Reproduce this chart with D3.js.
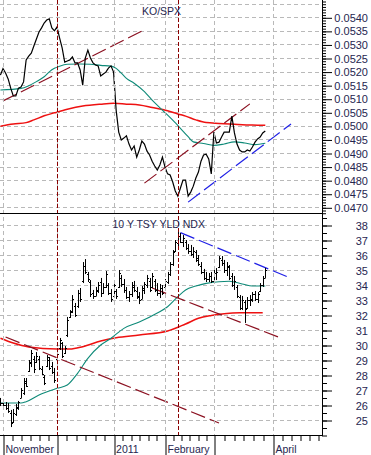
<!DOCTYPE html>
<html>
<head>
<meta charset="utf-8">
<script src="https://cdn.jsdelivr.net/npm/d3@7"></script>
<style>
  body { margin: 0; background: #fff; }
  svg { display: block; font-family: "Liberation Sans", Arial, sans-serif; }
</style>
</head>
<body>
<svg width="371" height="455"></svg>
<script>
// months on the time axis (index = trading day, 0 = 1 Nov 2010)
const monthLabels = ["November", "", "2011", "February", "", "April", ""];
const monthStart = [0, 21, 43, 63, 82, 105, 126];
const eventDays = [21, 68];

// KO/SPX ratio, daily closes from index -1
const koStart = -1;
const koSpx = [
  0.05187, 0.05211, 0.05195, 0.05173, 0.05139, 0.05110, 0.05110, 0.05139, 0.05143, 0.05162,
  0.05243, 0.05257, 0.05268, 0.05294, 0.05320, 0.05346, 0.05361, 0.05379, 0.05390, 0.05394,
  0.05361, 0.05350, 0.05364, 0.05324, 0.05287, 0.05235, 0.05239, 0.05243, 0.05254, 0.05232,
  0.05232, 0.05206, 0.05150, 0.05250, 0.05279, 0.05250, 0.05232, 0.05224, 0.05221, 0.05184,
  0.05191, 0.05198, 0.05213, 0.05221, 0.05198, 0.05058, 0.04977, 0.04948, 0.04955, 0.04963,
  0.04933, 0.04911, 0.04926, 0.04885, 0.04911, 0.04944, 0.04933, 0.04907, 0.04893, 0.04870,
  0.04852, 0.04837, 0.04856, 0.04885, 0.04848, 0.04823, 0.04819, 0.04793, 0.04760, 0.04741,
  0.04771, 0.04800, 0.04800, 0.04741, 0.04756, 0.04778, 0.04808, 0.04830, 0.04870, 0.04893,
  0.04896, 0.04878, 0.04823, 0.04977, 0.04937, 0.04940, 0.04959, 0.04977, 0.04977, 0.04977,
  0.05036, 0.04974, 0.04933, 0.04911, 0.04904, 0.04904, 0.04911, 0.04907, 0.04922, 0.04940,
  0.04952, 0.04959, 0.04974, 0.04981
];
const koMaFastIdx = [-1, 7, 10, 13, 16, 18, 20, 22, 25, 30, 34, 38, 42, 44, 46, 48, 51, 55, 58, 62, 66, 69, 72, 74, 78, 82, 86, 90, 94, 98, 102];
const koMaFast = [0.05132, 0.05138, 0.05148, 0.05163, 0.05181, 0.05199, 0.05212, 0.05220, 0.05227, 0.05228,
  0.05227, 0.05223, 0.05220, 0.05212, 0.05194, 0.05175, 0.05157, 0.05126, 0.05095, 0.05058,
  0.05021, 0.04991, 0.04960, 0.04941, 0.04935, 0.04928, 0.04933, 0.04941, 0.04937, 0.04931, 0.04936];
const koMaSlowIdx = [-1, 4, 9, 12, 16, 20, 25, 31, 38, 43, 48, 53, 58, 64, 68, 71, 75, 79, 84, 90, 97, 102];
const koMaSlow = [0.04999, 0.05007, 0.05012, 0.05022, 0.05037, 0.05048, 0.05061, 0.05073, 0.05080, 0.05083,
  0.05080, 0.05077, 0.05068, 0.05056, 0.05044, 0.05036, 0.05022, 0.05012, 0.05009, 0.05006, 0.05003, 0.05002];
// trend lines [day, value] pairs
const koTrendUp1 = [[0, 0.05092], [54, 0.05349]];
const koTrendUp2 = [[55, 0.04789], [96, 0.05081]];
const koTrendSupport = [[72, 0.04719], [112, 0.05007]];

// 10 year treasury yield index, OHLC from index -1
const tsyStart = -1;
const tsyHigh = [
  26.47, 26.27, 26.2, 26.13, 25.67, 25.73, 26.07, 26.27, 27.13, 27.8,
  27.8, 29.0, 29.67, 29.27, 29.53, 29.27, 28.6, 28.0, 29.33, 29.2,
  28.87, 28.47, 29.53, 30.47, 30.2, 29.93, 31.87, 32.33, 33.33, 32.8,
  33.67, 33.8, 35.53, 35.73, 34.87, 34.33, 33.67, 33.87, 34.2, 34.47,
  34.13, 34.93, 34.13, 33.73, 34.2, 33.73, 35.0, 34.67, 34.4, 33.87,
  33.6, 34.2, 34.27, 33.87, 33.53, 33.93, 34.2, 34.67, 34.47, 34.8,
  34.4, 34.13, 34.07, 34.0, 34.4, 34.87, 35.53, 36.33, 37.0, 37.53,
  37.47, 37.33, 37.0, 36.73, 36.67, 36.53, 36.33, 36.0, 35.53, 35.07,
  34.87, 34.8, 34.87, 35.0, 35.13, 35.93, 35.93, 35.67, 35.53, 35.33,
  34.8, 34.6, 34.0, 33.33, 33.27, 33.0, 33.2, 33.33, 33.53, 33.6,
  33.53, 34.13, 34.6, 35.13
];
const tsyLow = [
  25.93, 25.73, 25.67, 25.47, 24.53, 24.8, 25.27, 25.67, 26.47, 26.67,
  27.2, 28.2, 28.53, 28.13, 28.8, 28.33, 28.0, 27.33, 28.53, 28.33,
  28.07, 27.47, 29.0, 29.67, 29.13, 29.4, 30.53, 31.8, 32.13, 31.87,
  32.47, 32.87, 34.13, 34.73, 34.2, 33.2, 33.07, 33.27, 33.47, 33.2,
  33.4, 33.8, 33.33, 32.87, 33.13, 33.07, 33.8, 33.87, 33.47, 33.07,
  32.87, 33.2, 33.53, 33.07, 32.73, 33.07, 33.4, 33.8, 33.53, 33.8,
  33.53, 33.27, 33.13, 33.33, 33.8, 34.07, 34.6, 35.27, 36.2, 36.6,
  36.8, 36.53, 36.33, 36.07, 35.93, 35.8, 35.53, 35.27, 34.73, 34.33,
  34.2, 34.2, 34.13, 34.27, 34.33, 35.13, 35.27, 34.8, 34.6, 34.33,
  33.87, 33.67, 33.13, 32.33, 32.33, 31.47, 32.4, 32.6, 32.87, 32.93,
  32.8, 33.53, 33.87, 34.47
];
const tsyOpen = [
  26.3, 26.1, 26.0, 25.8, 25.5, 24.9, 25.4, 25.8, 26.5, 26.8,
  27.5, 28.3, 28.8, 29.1, 28.9, 29.1, 28.4, 27.9, 28.6, 29.0,
  28.6, 28.2, 29.1, 29.8, 30.1, 29.5, 30.7, 31.9, 32.3, 32.6,
  32.6, 33.5, 34.3, 35.3, 34.7, 34.2, 33.5, 33.3, 33.6, 34.2,
  33.5, 33.9, 34.0, 33.5, 33.3, 33.6, 33.9, 34.5, 34.1, 33.7,
  33.2, 33.4, 33.9, 33.6, 33.2, 33.1, 33.7, 34.0, 34.3, 33.9,
  34.3, 33.7, 33.5, 33.8, 33.9, 34.2, 34.7, 35.4, 36.3, 36.8,
  37.3, 36.9, 36.9, 36.5, 36.3, 36.1, 36.2, 35.8, 35.3, 34.9,
  34.5, 34.4, 34.6, 34.3, 34.8, 35.2, 35.7, 35.5, 35.0, 35.2,
  34.6, 34.0, 33.9, 33.2, 32.5, 32.9, 32.5, 33.0, 33.0, 33.4,
  33.1, 33.6, 34.0, 34.5
];
const tsyClose = [
  26.1, 26.0, 25.8, 25.6, 24.8, 25.5, 25.9, 26.2, 27.0, 27.6,
  27.3, 28.9, 29.5, 28.4, 29.3, 28.5, 28.1, 27.5, 29.2, 28.5,
  28.2, 27.7, 29.4, 30.3, 29.3, 29.8, 31.7, 32.2, 33.1, 32.0,
  33.5, 33.1, 35.3, 34.9, 34.4, 33.4, 33.3, 33.7, 34.0, 33.5,
  33.9, 34.7, 33.5, 33.1, 34.0, 33.3, 34.8, 34.1, 33.7, 33.2,
  33.4, 34.0, 33.7, 33.3, 33.0, 33.8, 34.1, 34.5, 33.7, 34.6,
  33.7, 33.5, 33.8, 33.5, 34.3, 34.7, 35.4, 36.2, 36.9, 37.3,
  36.9, 37.1, 36.5, 36.3, 36.1, 36.3, 35.7, 35.4, 34.9, 34.5,
  34.4, 34.6, 34.3, 34.8, 34.9, 35.8, 35.5, 35.0, 35.3, 34.5,
  34.0, 34.3, 33.3, 32.5, 33.0, 32.4, 33.0, 33.1, 33.4, 33.1,
  33.4, 34.0, 34.5, 35.0
];
const tsyMaFastIdx = [-1, 7, 9, 14, 21, 25, 29, 33, 38, 42, 47, 53, 60, 64, 68, 71, 75, 79, 84, 88, 93, 97, 102];
const tsyMaFast = [26.13, 26.13, 26.22, 26.67, 27.11, 27.33, 28.11, 29.11, 30.0, 30.45, 31.11, 31.53,
  32.13, 32.55, 33.22, 33.67, 33.93, 34.11, 34.22, 34.25, 34.07, 33.93, 33.93];
const tsyMaSlowIdx = [-1, 4, 10, 21, 26, 31, 38, 44, 53, 64, 71, 76, 81, 86, 92, 101];
const tsyMaSlow = [30.45, 30.13, 29.87, 29.73, 29.73, 29.89, 30.27, 30.49, 30.67, 30.93, 31.4, 31.78,
  31.97, 32.09, 32.15, 32.15];
const tsyTrendDown1 = [[1, 30.53], [84, 24.8]];
const tsyTrendDown2 = [[58, 33.8], [108, 30.47]];
const tsyTrendResist = [[69, 37.49], [112, 34.45]];

const koTicks = d3.range(15).map((k) => 0.047 + k * 0.0005);
const tsyTicks = d3.range(25, 39);

const svg = d3.select("svg");
const plotW = 322;
const topH = 213;
const botY0 = 213,
  botY1 = 435;
const textColor = "#262650";
const gridColor = "#b9b9b9";
const maroon = "#8b1020";

const x = d3.scaleLinear().domain([0, 105]).range([3, 273]);
const yKo = d3.scaleLinear().domain([0.047, 0.054]).range([207.3, 17.3]);
const yTsy = d3.scaleLinear().domain([25, 38]).range([420, 225]);
const px = (v) => Math.round(v) + 0.5;

const defs = svg.append("defs");
defs.append("clipPath").attr("id", "clipTop")
  .append("rect").attr("width", plotW).attr("height", topH);
defs.append("clipPath").attr("id", "clipBot")
  .append("rect").attr("y", botY0).attr("width", plotW).attr("height", botY1 - botY0);

const gTop = svg.append("g").attr("clip-path", "url(#clipTop)");
const gBot = svg.append("g").attr("clip-path", "url(#clipBot)");

// horizontal grid
gTop.selectAll(".hg").data(koTicks.concat([0.0545])).join("line")
  .attr("x1", 0).attr("x2", plotW)
  .attr("y1", (d) => px(yKo(d))).attr("y2", (d) => px(yKo(d)))
  .attr("stroke", gridColor).attr("stroke-dasharray", "4,3");
gBot.selectAll(".hg").data(tsyTicks).join("line")
  .attr("x1", 0).attr("x2", plotW)
  .attr("y1", (d) => px(yTsy(d))).attr("y2", (d) => px(yTsy(d)))
  .attr("stroke", gridColor).attr("stroke-dasharray", "4,3");

// vertical grid at month starts
svg.append("g").selectAll("line").data(monthStart.filter((d) => x(d) < plotW)).join("line")
  .attr("x1", (d) => px(x(d))).attr("x2", (d) => px(x(d)))
  .attr("y1", 0).attr("y2", botY1)
  .attr("stroke", gridColor).attr("stroke-dasharray", "4,3");

// event markers
svg.append("g").selectAll("line").data(eventDays).join("line")
  .attr("x1", (d) => px(x(d))).attr("x2", (d) => px(x(d)))
  .attr("y1", 0).attr("y2", botY1)
  .attr("stroke", "#8b0000").attr("stroke-dasharray", "4,2");

// ---- top panel
const maLine = (idx, vals, y) =>
  d3.line().x((d) => x(d)).y((d, k) => y(vals[k])).curve(d3.curveMonotoneX)(idx);

gTop.append("path").attr("d", maLine(koMaSlowIdx, koMaSlow, yKo))
  .attr("fill", "none").attr("stroke", "#ee1111").attr("stroke-width", 1.5);
gTop.append("path").attr("d", maLine(koMaFastIdx, koMaFast, yKo))
  .attr("fill", "none").attr("stroke", "#0e8a78").attr("stroke-width", 1.1);

const trend = (g, pts, y, color) =>
  g.append("line")
    .attr("x1", x(pts[0][0])).attr("y1", y(pts[0][1]))
    .attr("x2", x(pts[1][0])).attr("y2", y(pts[1][1]))
    .attr("stroke", color).attr("stroke-width", 1.2).attr("stroke-dasharray", "15,5");

trend(gTop, koTrendUp1, yKo, maroon);
trend(gTop, koTrendUp2, yKo, maroon);
trend(gTop, koTrendSupport, yKo, "#1f1fe6");

gTop.append("path")
  .attr("d", d3.line().x((d, k) => x(koStart + k)).y((d) => yKo(d))(koSpx))
  .attr("fill", "none").attr("stroke", "#000").attr("stroke-width", 1.2);

svg.append("text").text("KO/SPX")
  .attr("x", 142).attr("y", 15).attr("font-size", 10.5).attr("fill", textColor);

// ---- bottom panel
gBot.append("path").attr("d", maLine(tsyMaSlowIdx, tsyMaSlow, yTsy))
  .attr("fill", "none").attr("stroke", "#ee1111").attr("stroke-width", 1.5);
gBot.append("path").attr("d", maLine(tsyMaFastIdx, tsyMaFast, yTsy))
  .attr("fill", "none").attr("stroke", "#0e8a78").attr("stroke-width", 1.1);

trend(gBot, tsyTrendDown1, yTsy, maroon);
trend(gBot, tsyTrendDown2, yTsy, maroon);
trend(gBot, tsyTrendResist, yTsy, "#1f1fe6");

const bars = tsyHigh.map((h, k) => ({
  i: tsyStart + k, h, l: tsyLow[k], o: tsyOpen[k], c: tsyClose[k],
}));
gBot.append("g").selectAll("path").data(bars).join("path")
  .attr("d", (d) => {
    const cx = px(x(d.i));
    return `M${cx},${yTsy(d.h)}V${yTsy(d.l)}` +
      `M${cx - 1.5},${px(yTsy(d.o))}H${cx}` +
      `M${cx},${px(yTsy(d.c))}H${cx + 1.5}`;
  })
  .attr("fill", "none").attr("stroke", "#000").attr("stroke-width", 1);

svg.append("text").text("10 Y TSY YLD NDX")
  .attr("x", 112.5).attr("y", 228).attr("font-size", 10.5).attr("fill", textColor);

// ---- frame
svg.append("line").attr("x1", 0).attr("x2", plotW).attr("y1", topH + 0.5).attr("y2", topH + 0.5)
  .attr("stroke", "#000");
svg.append("line").attr("x1", 0).attr("x2", plotW).attr("y1", botY1 + 0.5).attr("y2", botY1 + 0.5)
  .attr("stroke", "#000");
svg.append("line").attr("x1", plotW + 0.5).attr("x2", plotW + 0.5).attr("y1", 0).attr("y2", botY1 + 1)
  .attr("stroke", "#000");

// ---- right axes
const styleAxis = (g) => {
  g.select(".domain").remove();
  g.selectAll("line").attr("stroke", "#000");
  g.selectAll("text").attr("x", 46).attr("text-anchor", "end")
    .attr("font-size", 11).attr("font-family", "Liberation Sans, Arial, sans-serif")
    .attr("fill", textColor);
};
const koMinor = d3.range(81).map((k) => 0.0466 + k * 0.0001);
svg.append("g").attr("transform", `translate(${plotW},0.5)`)
  .call(d3.axisRight(yKo).tickValues(koMinor.filter((d) => yKo(d) > 1 && yKo(d) < topH))
    .tickSize(4).tickFormat(""))
  .call(styleAxis);
svg.append("g").attr("transform", `translate(${plotW},0.5)`)
  .call(d3.axisRight(yKo).tickValues(koTicks).tickSize(10).tickFormat(d3.format(".4f")))
  .call(styleAxis);

const tsyMinor = d3.range(30).map((k) => 24 + k * 0.5);
svg.append("g").attr("transform", `translate(${plotW},0.5)`)
  .call(d3.axisRight(yTsy).tickValues(tsyMinor.filter((d) => yTsy(d) > topH + 2))
    .tickSize(5).tickFormat(""))
  .call(styleAxis);
svg.append("g").attr("transform", `translate(${plotW},0.5)`)
  .call(d3.axisRight(yTsy).tickValues(tsyTicks).tickSize(10).tickFormat(d3.format("d")))
  .call(styleAxis);

// ---- bottom time axis
const minorDays = [];
monthStart.slice(0, -1).forEach((s, k) => {
  const e = monthStart[k + 1];
  for (let j = 1; j < 6; j++) minorDays.push(s + ((e - s) * j) / 6);
});
svg.append("g").attr("transform", `translate(0,${botY1})`)
  .call(d3.axisBottom(x).tickValues(minorDays.filter((d) => x(d) < plotW)).tickSize(6).tickFormat(""))
  .call((g) => g.select(".domain").remove())
  .selectAll("line").attr("stroke", "#000").attr("transform", (d) => `translate(${px(x(d)) - x(d)},0)`);
svg.append("g").attr("transform", `translate(0,${botY1})`)
  .call(d3.axisBottom(x).tickValues(monthStart.filter((d) => x(d) < plotW)).tickSize(20).tickFormat(""))
  .call((g) => g.select(".domain").remove())
  .selectAll("line").attr("stroke", "#000").attr("transform", (d) => `translate(${px(x(d)) - x(d)},0)`);

svg.append("g").selectAll("text")
  .data(monthStart.map((d, k) => ({ d, label: monthLabels[k] })).filter((m) => m.label))
  .join("text")
  .text((m) => m.label)
  .attr("x", (m) => x(m.d) + 2.5).attr("y", 452.5)
  .attr("font-size", 10.5).attr("fill", textColor);
</script>
</body>
</html>
